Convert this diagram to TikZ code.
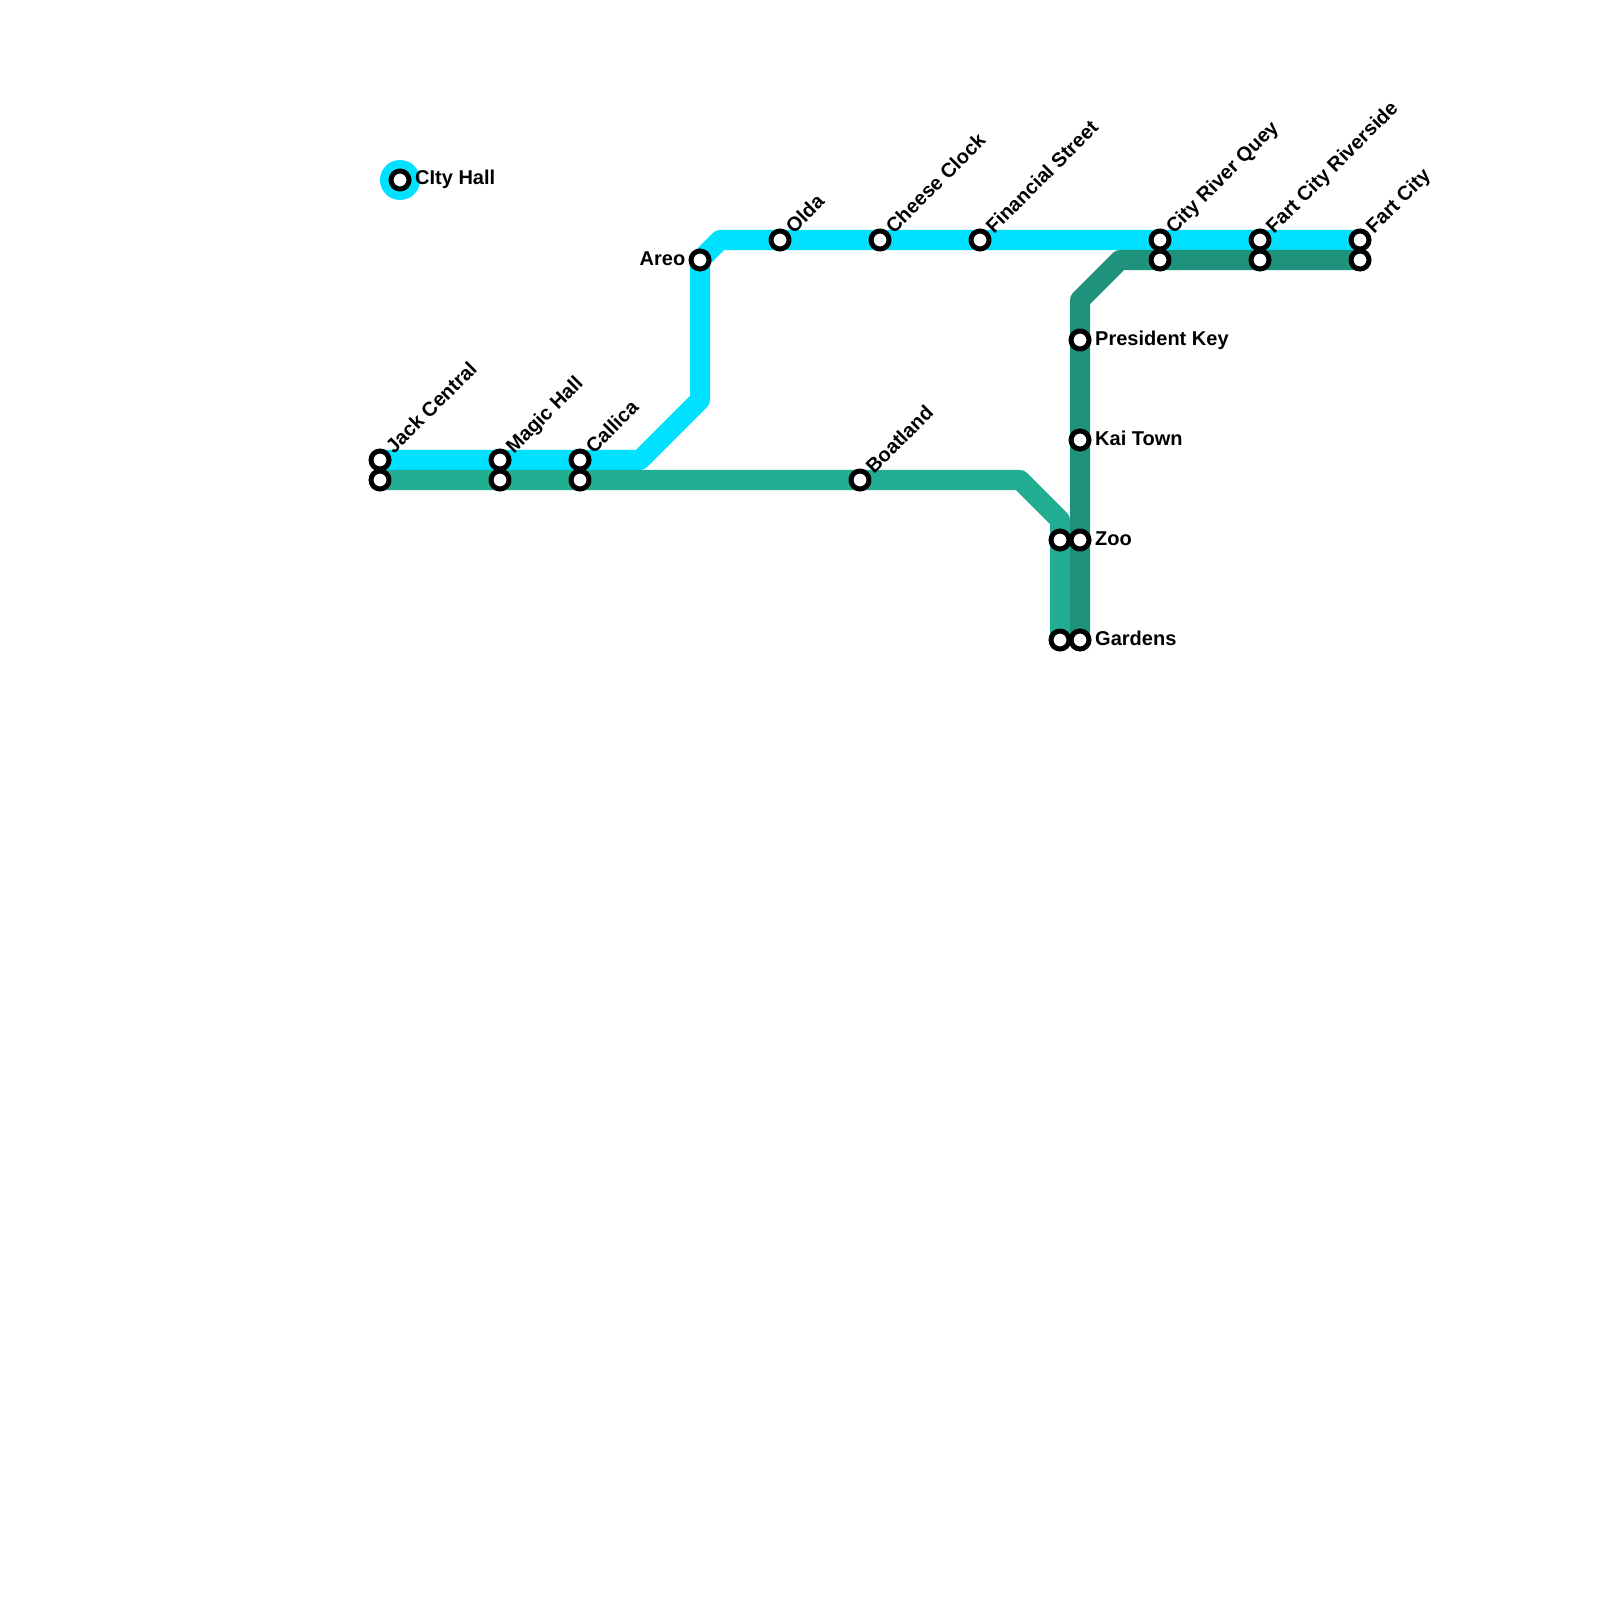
\documentclass[tikz,border=0pt]{standalone}
\usepackage{fontspec}
\setmainfont{Liberation Sans}
\usepackage{xcolor}
\usepackage{tikz}
\usetikzlibrary{positioning, backgrounds}
\definecolor{cyanline}{HTML}{00E1FF}
\definecolor{greenline}{HTML}{22AE93}
\definecolor{darkline}{HTML}{1E927D}
\tikzset{
  metro/.style={line width=5.69pt, line join=round},
  stn/.style={circle, draw=black, fill=white, line width=1.42pt, minimum size=5.12pt, inner sep=0pt, outer sep=0pt},
  ring/.style={circle, fill=cyanline, minimum size=11.38pt, inner sep=0pt, outer sep=0pt},
  stnname/.style={inner sep=0pt, font=\fontsize{5.69}{6.8}\selectfont\bfseries},
  upname/.style={stnname, shift={(13.5,-5)}, rotate=45, anchor=base west},
  rightname/.style={stnname, anchor=base west, shift={(14.5,5)}},
  leftname/.style={stnname, anchor=base east, shift={(-14,5)}}
}
\begin{document}
\begin{tikzpicture}[x=0.01cm, y=-0.01cm]
\useasboundingbox (0,0) rectangle (1600,1600);
% bends
\coordinate (cyanA) at (640,460);
\coordinate (cyanB) at (700,400);
\coordinate (cyanC) at (720,240);
\coordinate (greenA) at (1020,480);
\coordinate (greenB) at (1060,520);
\coordinate (darkA) at (1080,300);
\coordinate (darkB) at (1120,260);
% stations
\node[stn] (cityhall) at (400,180) {};
\node[stn] (jackT) at (380,460) {};
\node[stn] (jackB) at (380,480) {};
\node[stn] (magicT) at (500,460) {};
\node[stn] (magicB) at (500,480) {};
\node[stn] (callicaT) at (580,460) {};
\node[stn] (callicaB) at (580,480) {};
\node[stn] (areo) at (700,260) {};
\node[stn] (olda) at (780,240) {};
\node[stn] (cheese) at (880,240) {};
\node[stn] (financial) at (980,240) {};
\node[stn] (boatland) at (860,480) {};
\node[stn] (riverT) at (1160,240) {};
\node[stn] (riverB) at (1160,260) {};
\node[stn] (fartrT) at (1260,240) {};
\node[stn] (fartrB) at (1260,260) {};
\node[stn] (fartT) at (1360,240) {};
\node[stn] (fartB) at (1360,260) {};
\node[stn] (president) at (1080,340) {};
\node[stn] (kai) at (1080,440) {};
\node[stn] (zooL) at (1060,540) {};
\node[stn] (zooR) at (1080,540) {};
\node[stn] (gardensL) at (1060,640) {};
\node[stn] (gardensR) at (1080,640) {};
% lines
\begin{scope}[on background layer]
\node[ring] (cityring) at (cityhall.center) {};
\draw[metro, cyanline] (jackT.center) -- (cyanA) -- (cyanB) -- (areo.center) -- (cyanC) -- (fartT.center);
\draw[metro, greenline] (jackB.center) -- (greenA) -- (greenB) -- (gardensL.center);
\draw[metro, darkline] (gardensR.center) -- (darkA) -- (darkB) -- (fartB.center);
\end{scope}
% names
\node[rightname] (cityhallname) at (cityhall.center) {CIty Hall};
\node[leftname] (areoname) at (areo.center) {Areo};
\node[upname] (jackname) at (jackT.center) {Jack Central};
\node[upname] (magicname) at (magicT.center) {Magic Hall};
\node[upname] (callicaname) at (callicaT.center) {Callica};
\node[upname] (oldaname) at (olda.center) {Olda};
\node[upname] (cheesename) at (cheese.center) {Cheese Clock};
\node[upname] (financialname) at (financial.center) {Financial Street};
\node[upname] (boatlandname) at (boatland.center) {Boatland};
\node[upname] (rivername) at (riverT.center) {City River Quey};
\node[upname] (fartrname) at (fartrT.center) {Fart City Riverside};
\node[upname] (fartname) at (fartT.center) {Fart City};
\node[rightname] (presidentname) at (president.center) {President Key};
\node[rightname] (kainame) at (kai.center) {Kai Town};
\node[rightname] (zooname) at (zooR.center) {Zoo};
\node[rightname] (gardensname) at (gardensR.center) {Gardens};
\end{tikzpicture}
\end{document}
